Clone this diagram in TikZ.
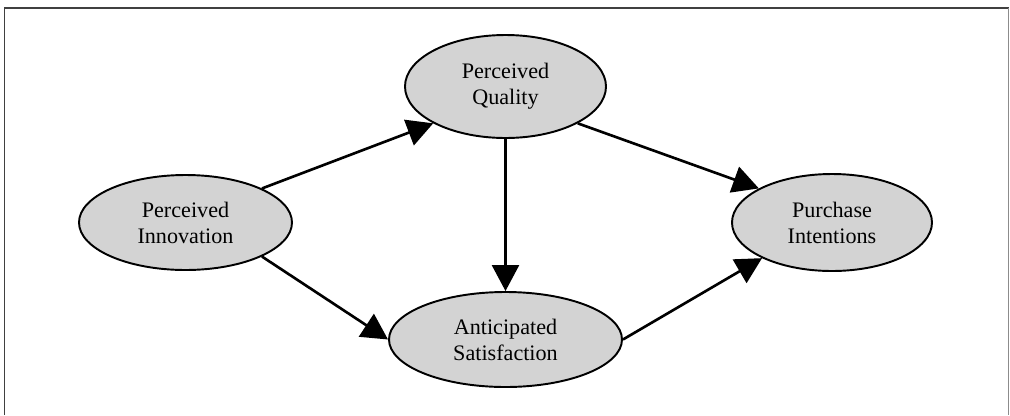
\documentclass[tikz,border=0pt]{standalone}
\usepackage{fontspec}
\setmainfont{Liberation Serif}
\usepackage{xcolor}
\usetikzlibrary{shapes,arrows.meta,positioning}
\definecolor{nodegray}{HTML}{D3D3D3}

\begin{document}
\begin{tikzpicture}[auto,
    latent/.style={ellipse, draw, line width=1.1pt, fill=nodegray, inner sep=0pt, align=center, font=\fontsize{12.6}{14.8}\selectfont},
    link/.style={-{Triangle[length=0.52cm, width=0.54cm]}, line width=1.5pt}]
    \useasboundingbox (-3.71,-3.85) rectangle (16.49,4.45);
    % Frame
    \draw[line width=0.8pt, black!75] (-3.62,-3.85) -- (-3.62,4.29) -- (16.46,4.29);
    \draw[line width=0.8pt, black!45] (16.46,4.29) -- (16.46,-3.85);

    % Nodes
    \node (innov) [latent, minimum width=4.26cm, minimum height=1.9cm] {Perceived\\Innovation};
    \node (quality) [latent, minimum width=4.02cm, minimum height=2.06cm, right of=innov, node distance=6.4cm, yshift=2.72cm] {Perceived\\Quality};
    \node (satis) [latent, minimum width=4.66cm, minimum height=1.9cm, below of=quality, node distance=5.06cm] {Anticipated\\Satisfaction};
    \node (purch) [latent, minimum width=4.0cm, minimum height=1.94cm, right of=innov, node distance=12.93cm] {Purchase\\Intentions};

    % Edges
    \draw[link] (innov.24) -- (quality.207);
    \draw[link] (innov.-24) -- (satis.west);
    \draw[link] (quality) -- (satis);
    \draw[link] (quality.-27) -- (purch.155);
    \draw[link] (satis.east) -- (purch.207);
\end{tikzpicture}
\end{document}
